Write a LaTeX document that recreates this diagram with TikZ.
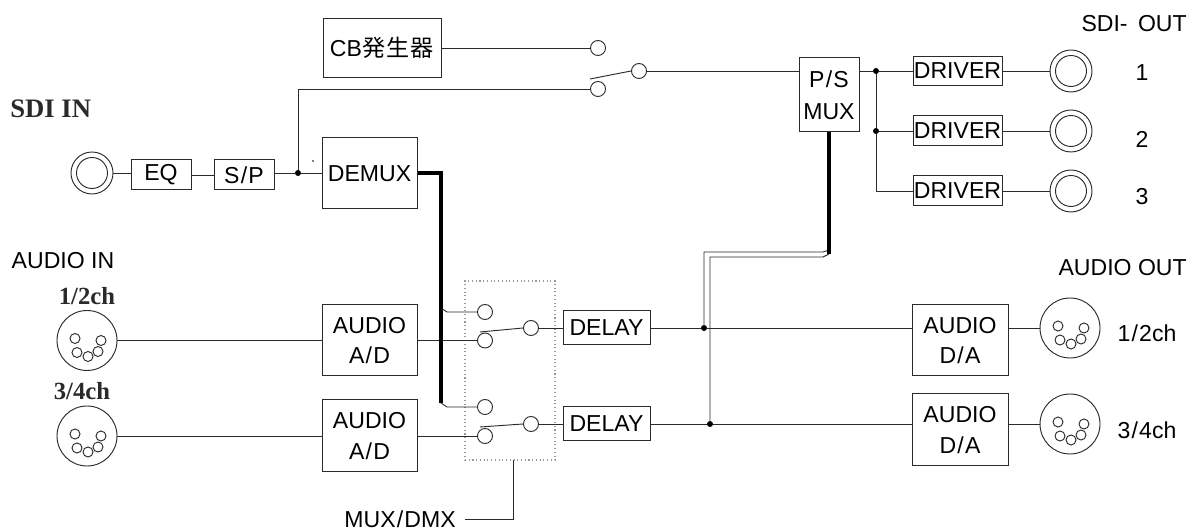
\documentclass[tikz,border=0pt]{standalone}
\usepackage{fontspec}
\setmainfont{Liberation Sans}
\newfontfamily\cjk{Noto Sans CJK JP}
\newfontfamily\serifb{Liberation Serif}[BoldFont={Liberation Serif Bold}]
\definecolor{ink}{HTML}{2A2A2A}
\newcommand{\lab}{\fontsize{17.3pt}{23pt}\selectfont}
\newcommand{\serlab}{\fontsize{18.5pt}{20pt}\selectfont\serifb\bfseries}
\newcommand{\serbig}{\fontsize{20pt}{22pt}\selectfont\serifb\bfseries}
\newcommand{\wsl}{\kern.9pt/\kern.9pt}
\newcommand{\coaxcon}[3]{%
  \node[coaxouter] (#1) at (#2,#3) {};
  \node[coaxinner] (#1in) at (#2,#3) {};}
\newcommand{\xlrcon}[3]{%
  \node[xlrbody] (#1) at (#2,#3) {};
  \begin{scope}[shift={(#2,#3)}]
    \draw[thinline] (-12,-2) circle [radius=5];
    \draw[thinline] (14,0) circle [radius=5];
    \draw[thinline] (-10,12) circle [radius=5];
    \draw[thinline] (1,16) circle [radius=5];
    \draw[thinline] (11,11) circle [radius=5];
  \end{scope}}
\tikzset{
  thinline/.style={draw=ink,line width=.7pt},
  busline/.style={draw=black,line width=2.4pt,line cap=butt},
  blk/.style n args={2}{draw=ink,line width=.75pt,fill=white,minimum width=#1*.75pt,minimum height=#2*.75pt,inner sep=0pt,align=center,font=\lab,text=black},
  term/.style={circle,draw=ink,line width=.7pt,fill=white,minimum size=15*.75pt,inner sep=0pt},
  coaxouter/.style={circle,draw=ink,line width=.7pt,fill=white,minimum size=42*.75pt,inner sep=0pt},
  coaxinner/.style={circle,draw=ink,line width=.7pt,minimum size=31*.75pt,inner sep=0pt},
  xlrbody/.style={circle,draw=ink,line width=.7pt,fill=white,minimum size=60*.75pt,inner sep=0pt},
  jdot/.style={circle,fill=black,minimum size=6*.75pt,inner sep=0pt},
  lbl/.style={font=\lab,text=black,inner sep=0pt},
  slbl/.style={font=\serlab,text=ink,inner sep=0pt},
}
\begin{document}
\begin{tikzpicture}[x=.75pt,y=-.75pt]
\useasboundingbox (0,0) rectangle (1190,530);
\fill[white] (0,0) rectangle (1190,530);
% dotted switch enclosure
\node[draw=gray!80,dotted,line width=.8pt,minimum width=90*.75pt,minimum height=179*.75pt,inner sep=0pt] (muxbox) at (510,370.5) {};
% blocks
\node[blk={118}{59}] (cb) at (382,48) {CB{\cjk\kern.5pt発\kern.8pt生\kern.8pt器}};
\node[blk={60}{30}] (eq) at (161,175) {\raisebox{-1.5pt}{EQ}};
\node[blk={60}{30}] (sp) at (244,175) {S\wsl P};
\node[blk={95}{71}] (demux) at (369.5,173.5) {DEMUX};
\node[blk={60}{74}] (ps) at (829,95) {P\wsl S\\[1pt]MUX};
\node[blk={89}{29}] (drv1) at (957.5,71) {DRIVER};
\node[blk={89}{30}] (drv2) at (957.5,131) {DRIVER};
\node[blk={89}{30}] (drv3) at (957.5,191) {DRIVER};
\node[blk={95}{71}] (ad1) at (369.5,340.5) {AUDIO\\A\wsl D};
\node[blk={95}{72}] (ad2) at (369.5,436) {AUDIO\\A\wsl D};
\node[blk={87}{34}] (dly1) at (606.5,328) {DELAY};
\node[blk={87}{34}] (dly2) at (606.5,424) {DELAY};
\node[blk={96}{71}] (da1) at (960,340.5) {AUDIO\\D\wsl A};
\node[blk={96}{72}] (da2) at (960,430) {AUDIO\\D\wsl A};
% connectors' terminals
\node[term] (t1) at (598,48) {};
\node[term] (t2) at (598,89) {};
\node[term] (tout) at (639,71) {};
\node[term] (t3) at (485,312) {};
\node[term] (t4) at (485,340.5) {};
\node[term] (tout1) at (531,328) {};
\node[term] (t5) at (485,407) {};
\node[term] (t6) at (485,436) {};
\node[term] (tout2) at (531,424) {};
% connectors
\coaxcon{cin}{92}{173}
\coaxcon{co1}{1071}{71}
\coaxcon{co2}{1071}{131}
\coaxcon{co3}{1071}{191}
\xlrcon{xi1}{87}{340.5}
\xlrcon{xi2}{87}{436}
\xlrcon{xo1}{1070}{328}
\xlrcon{xo2}{1070}{424}
% junctions and way-points
\node[jdot] (j1) at (298,173) {};
\node[jdot] (j2) at (876,71) {};
\node[jdot] (j3) at (876,131) {};
\node[jdot] (j4) at (704,328) {};
\node[jdot] (j5) at (710,424) {};
\node[fill=gray,minimum size=1pt,inner sep=0pt] (speck) at (313,161) {};
\coordinate (busc) at (441,173);
\coordinate (bus1) at (441,308);
\coordinate (bus1b) at (447,312);
\coordinate (bus2) at (441,403);
\coordinate (bus2b) at (447,407);
\coordinate (b1) at (480,332);
\coordinate (b2) at (480,427);
\coordinate (b3) at (590,79);
\coordinate (dl1a) at (704,252);
\coordinate (dl1b) at (823,252);
\coordinate (dl1c) at (829,250);
\coordinate (dl2a) at (710,257);
\coordinate (dl2b) at (823,257);
\coordinate (dl2c) at (829,254);
\coordinate (muxtap) at (513,460);
\coordinate (muxend) at (465,519);
% thin wiring
\draw[thinline] (cin.east) -- (eq.west |- cin.east);
\draw[thinline] (eq.east) -- (sp.west);
\draw[thinline] (sp.east |- j1) -- (j1) -- (demux.west |- j1);
\draw[thinline] (j1) |- (t2.west);
\draw[thinline] (cb.east) -- (t1.west);
\draw[thinline] (b3) -- (tout.west);
\draw[thinline] (tout.east) -- (ps.west |- tout.east);
\draw[thinline] (ps.east |- j2) -- (j2) -- (drv1.west);
\draw[thinline] (j2) -- (j3) -- (drv2.west);
\draw[thinline] (j3) |- (drv3.west);
\draw[thinline] (drv1.east) -- (co1.west);
\draw[thinline] (drv2.east) -- (co2.west);
\draw[thinline] (drv3.east) -- (co3.west);
\draw[thinline] (xi1.east) -- (ad1.west);
\draw[thinline] (xi2.east) -- (ad2.west);
\draw[thinline] (ad1.east) -- (t4.west);
\draw[thinline] (ad2.east) -- (t6.west);
\draw[thinline] (b1) -- (tout1.west);
\draw[thinline] (b2) -- (tout2.west);
\draw[thinline] (tout1.east) -- (dly1.west);
\draw[thinline] (tout2.east) -- (dly2.west);
\draw[thinline] (dly1.east) -- (j4) -- (da1.west |- j4);
\draw[thinline] (dly2.east) -- (j5) -- (da2.west |- j5);
\draw[thinline] (da1.east |- xo1.west) -- (xo1.west);
\draw[thinline] (da2.east |- xo2.west) -- (xo2.west);
\draw[thinline] (bus1) -- (bus1b) -- (t3.west);
\draw[thinline] (bus2) -- (bus2b) -- (t5.west);
\draw[thinline] (j4) -- (dl1a) -- (dl1b) -- (dl1c);
\draw[thinline] (j5) -- (dl2a) -- (dl2b) -- (dl2c);
\draw[thinline] (muxtap) |- (muxend);
% thick buses
\draw[busline] (demux.east |- busc) -- (busc) -- (bus2);
\draw[busline] (ps.south) -- (dl2c);
% labels
\node[slbl,font=\serbig,anchor=west] (sdiin) at (10,109) {SDI IN};
\node[lbl] (audioin) at (63,261) {AUDIO IN};
\node[slbl] (in12) at (87,296) {1/2ch};
\node[slbl] (in34) at (82,391) {3/4ch};
\node[lbl,anchor=east] (sdiout) at (1187,24) {SDI-\kern3pt\ OUT};
\node[lbl] (n1) at (1142,73) {1};
\node[lbl] (n2) at (1142,139) {2};
\node[lbl] (n3) at (1142,197) {3};
\node[lbl,anchor=east] (audioout) at (1187,268) {AUDIO OUT};
\node[lbl] (out12) at (1147,333) {1\wsl 2ch};
\node[lbl] (out34) at (1147,430) {3\wsl 4ch};
\node[lbl,anchor=east] (muxlbl) at (456,519) {MUX\wsl DMX};
\end{tikzpicture}
\end{document}
